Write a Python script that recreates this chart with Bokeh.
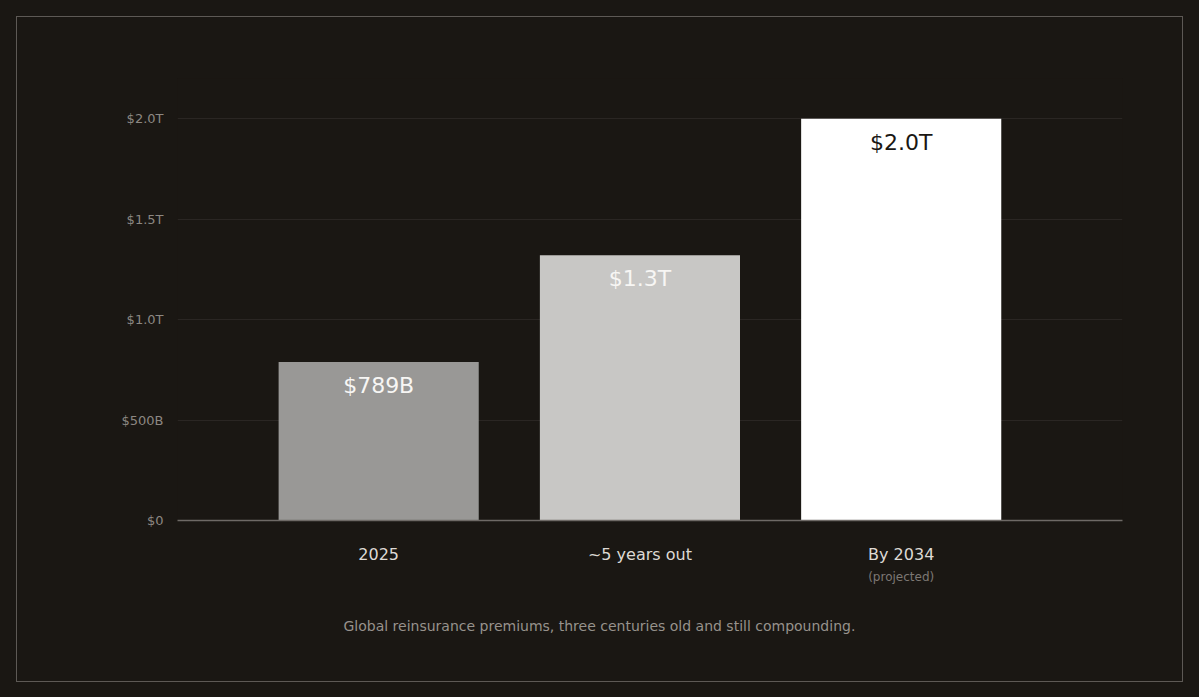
from bokeh.plotting import figure
from bokeh.models import (ColumnDataSource, FixedTicker, LinearAxis, Title, Range1d)
from bokeh.core.properties import value
from bokeh.embed import file_html
from bokeh.resources import INLINE

# ---- data ----
categories = ["2025", "~5 years out", "By 2034"]
notes = ["", "", "(projected)"]
premiums_t = [0.789, 1.32, 2.0]
value_labels = ["$789B", "$1.3T", "$2.0T"]
bar_colors = ["#999896", "#c8c7c5", "#ffffff"]
label_colors = ["#f7f6f4", "#f7f6f4", "#1a1713"]
y_ticks = [0.0, 0.5, 1.0, 1.5, 2.0]
y_tick_labels = ["$0", "$500B", "$1.0T", "$1.5T", "$2.0T"]
caption = "Global reinsurance premiums, three centuries old and still compounding."

BG = "#1a1713"
FONT = "DejaVu Sans"

xs = list(range(len(categories)))
src = ColumnDataSource(dict(x=xs, top=premiums_t, label=value_labels,
                            color=bar_colors, lcolor=label_colors))

p = figure(width=1165, height=664, output_backend="svg", toolbar_location=None,
           x_range=Range1d(-0.770, 2.847), y_range=Range1d(0, 2.2),
           min_border_left=160, min_border_right=60, min_border_top=61,
           min_border_bottom=161, background_fill_color=BG, border_fill_color=BG,
           outline_line_color=None, margin=(17, 17, 16, 17),
           styles={"outline": "1px solid #5d5955"})

p.vbar(x="x", top="top", bottom=0, width=0.766, fill_color="color",
       line_color=None, source=src)
p.text(x="x", y="top", text="label", text_color="lcolor", source=src,
       text_align="center", text_baseline="top", y_offset=11,
       text_font=value(FONT), text_font_size="22px")

# grid
p.xgrid.grid_line_color = None
p.ygrid.grid_line_color = "#2a2623"
p.ygrid.ticker = FixedTicker(ticks=y_ticks)

# y axis
ya = p.yaxis[0]
ya.ticker = FixedTicker(ticks=y_ticks)
ya.major_label_overrides = {t: l for t, l in zip(y_ticks, y_tick_labels)}
ya.axis_line_color = None
ya.major_tick_line_color = None
ya.minor_tick_line_color = None
ya.major_tick_out = 0
ya.major_tick_in = 0
ya.major_label_standoff = 14
ya.major_label_text_color = "#8c8782"
ya.major_label_text_font = FONT
ya.major_label_text_font_size = "13px"

# x axis: category names
xa = p.xaxis[0]
xa.ticker = FixedTicker(ticks=xs)
xa.major_label_overrides = {x: c for x, c in zip(xs, categories)}
xa.axis_line_color = "#6e6a66"
xa.axis_line_width = 1.5
xa.major_tick_line_color = None
xa.minor_tick_line_color = None
xa.major_tick_out = 0
xa.major_tick_in = 0
xa.major_label_standoff = 24
xa.major_label_text_color = "#dedad5"
xa.major_label_text_font = FONT
xa.major_label_text_font_size = "16px"

# second x axis: notes
note_ticks = [x for x, n in zip(xs, notes) if n]
xa2 = LinearAxis(ticker=FixedTicker(ticks=note_ticks),
                 major_label_overrides={x: n for x, n in zip(xs, notes) if n})
xa2.axis_line_color = None
xa2.major_tick_line_color = None
xa2.minor_tick_line_color = None
xa2.major_tick_out = 0
xa2.major_tick_in = 0
xa2.major_label_standoff = 3
xa2.major_label_text_color = "#7d7873"
xa2.major_label_text_font = FONT
xa2.major_label_text_font_size = "12px"
p.add_layout(xa2, "below")

# caption
p.add_layout(Title(text=caption, align="left", offset=166, standoff=58,
                   text_color="#97928c", text_font=FONT, text_font_size="14px",
                   text_font_style="normal"), "below")

html = file_html(p, INLINE)
html = html.replace("</head>", "<style>html,body{background:%s;margin:0;}</style></head>" % BG, 1)
open("out.html", "w").write(html)
